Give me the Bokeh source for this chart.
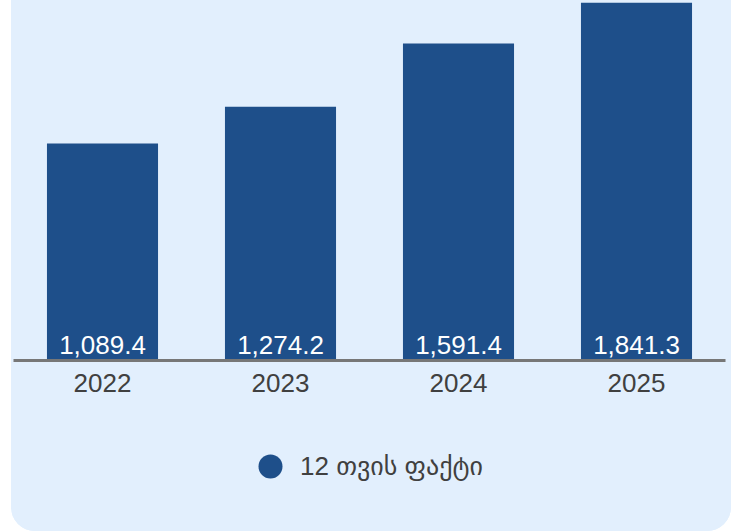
from bokeh.plotting import figure
from bokeh.layouts import column
from bokeh.models import ColumnDataSource, FactorRange, Range1d, Legend, LegendItem
from bokeh.core.properties import value
from bokeh.embed import file_html
from bokeh.resources import INLINE

years = ["2022", "2023", "2024", "2025"]
values = [1089.4, 1274.2, 1591.4, 1841.3]
series_name = "12 თვის ფაქტი"

labels = [f"{v:,.1f}" for v in values]

PANEL = "#e2effd"
BAR = "#1e4f8a"
FONT = "Liberation Sans, Arial, DejaVu Sans, sans-serif"

src = ColumnDataSource(dict(x=years, top=values, label=labels, zero=[0] * len(years)))

p = figure(
    x_range=FactorRange(*years, range_padding=0),
    y_range=Range1d(0, 1797),
    width=720, height=420,
    output_backend="svg", toolbar_location=None,
    min_border_left=2, min_border_right=6, min_border_top=2, min_border_bottom=60,
    background_fill_color=PANEL, border_fill_color=PANEL,
    outline_line_color=None,
)

p.vbar(x="x", top="top", width=0.624, source=src, fill_color=BAR, line_color=None)
p.text(x="x", y="zero", text="label", source=src, text_color="white",
       text_font=value(FONT), text_font_size="26px", text_align="center",
       text_baseline="middle", y_offset=-16)

p.yaxis.visible = False
p.xgrid.visible = False
p.ygrid.visible = False
ax = p.xaxis[0]
ax.axis_line_color = "#777777"
ax.axis_line_width = 3
ax.major_tick_line_color = None
ax.minor_tick_line_color = None
ax.major_tick_out = 0
ax.major_tick_in = 0
ax.major_label_standoff = 13
ax.major_label_text_font = FONT
ax.major_label_text_font_size = "26px"
ax.major_label_text_color = "#404040"

# legend strip
pl = figure(
    width=720, height=111, output_backend="svg", toolbar_location=None,
    x_axis_location=None, y_axis_location=None,
    min_border=0, background_fill_color=PANEL, border_fill_color=PANEL,
    outline_line_color=None, x_range=Range1d(0, 1), y_range=Range1d(0, 1),
)
pl.grid.visible = False
leg_r = pl.scatter(x=[float("nan")], y=[float("nan")], marker="circle",
                   fill_color=BAR, line_color=None)
legend = Legend(
    items=[LegendItem(label=series_name, renderers=[leg_r])],
    location=(227, 35),
    glyph_width=60, glyph_height=60, label_standoff=0,
    padding=0, margin=0, border_line_color=None, background_fill_alpha=0,
    label_text_font=FONT, label_text_font_size="26px", label_text_color="#404040",
)
pl.add_layout(legend, "center")

layout = column(
    p, pl, spacing=0,
    styles={"margin-left": "11px", "background-color": PANEL,
            "border-radius": "0 0 24px 24px", "overflow": "hidden"},
)

open("out.html", "w").write(file_html(layout, INLINE))
